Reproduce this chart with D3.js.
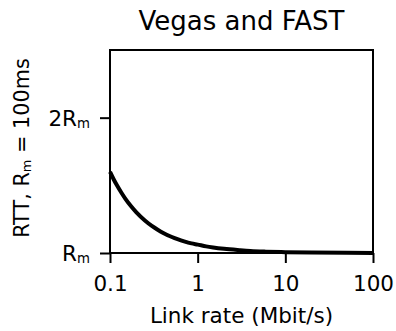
<!DOCTYPE html>
<html>
<head>
<meta charset="utf-8">
<script src="https://cdn.jsdelivr.net/npm/d3@7"></script>
<style>
  html, body { margin: 0; padding: 0; background: #fff; }
  svg { display: block; font-family: "DejaVu Sans", sans-serif; }
</style>
</head>
<body>
<svg id="chart" width="396" height="331"></svg>
<script>
// Data
const rates = [0.1, 0.11, 0.12, 0.135, 0.15, 0.175, 0.2, 0.25, 0.3, 0.35, 0.4, 0.5, 0.6, 0.7, 0.85, 1, 1.25, 1.5, 2, 3, 4, 6, 10, 20, 50, 100];
const rttValues = [1.60, 1.545, 1.50, 1.445, 1.40, 1.343, 1.30, 1.24, 1.20, 1.172, 1.15, 1.12, 1.10, 1.086, 1.071, 1.062, 1.049, 1.041, 1.031, 1.021, 1.015, 1.01, 1.006, 1.003, 1.0012, 1.0006];
const xTickValues = [0.1, 1, 10, 100];
const xTickLabels = ["0.1", "1", "10", "100"];
const yTickValues = [1, 2];
const yTickPrefixes = ["", "2"];
const titleText = "Vegas and FAST";
const xLabelText = "Link rate (Mbit/s)";

const svg = d3.select("#chart");
const mLeft = 110, mRight = 373, mTop = 50, mBottom = 253;
const fs = 21.5;

const x = d3.scaleLog().domain([0.1, 100]).range([mLeft, mRight]);
const y = d3.scaleLinear().domain([1, 2.5]).range([mBottom, mTop]);

// Curve
const data = rates.map((r, i) => ({ r, v: rttValues[i] }));
svg.append("path")
  .datum(data)
  .attr("fill", "none")
  .attr("stroke", "#000")
  .attr("stroke-width", 4)
  .attr("d", d3.line().x(d => x(d.r)).y(d => y(d.v)).curve(d3.curveMonotoneX));

// Frame
svg.append("rect")
  .attr("x", mLeft).attr("y", mTop)
  .attr("width", mRight - mLeft).attr("height", mBottom - mTop)
  .attr("fill", "none").attr("stroke", "#000").attr("stroke-width", 2);

// X axis
const xAxis = d3.axisBottom(x)
  .tickValues(xTickValues)
  .tickFormat((d, i) => xTickLabels[i])
  .tickSize(10).tickPadding(13);
const gx = svg.append("g").attr("transform", `translate(0,${mBottom})`).call(xAxis);
gx.select(".domain").remove();
gx.selectAll(".tick line").attr("stroke", "#000").attr("stroke-width", 2);
gx.selectAll(".tick text").attr("fill", "#000").style("font-size", fs + "px")
  .style("font-family", "DejaVu Sans");

// Y axis
const yAxis = d3.axisLeft(y)
  .tickValues(yTickValues)
  .tickFormat("")
  .tickSize(10).tickPadding(10);
const gy = svg.append("g").attr("transform", `translate(${mLeft},0)`).call(yAxis);
gy.select(".domain").remove();
gy.selectAll(".tick line").attr("stroke", "#000").attr("stroke-width", 2);
gy.selectAll(".tick text")
  .attr("fill", "#000")
  .attr("dy", "0.36em")
  .style("font-size", fs + "px")
  .style("font-family", "DejaVu Sans")
  .each(function(d, i) {
    const t = d3.select(this);
    t.text(null);
    t.append("tspan").text(yTickPrefixes[i] + "R");
    t.append("tspan").attr("font-size", "0.62em").attr("dy", "0.12em").text("m");
  });

// Title
svg.append("text")
  .attr("x", (mLeft + mRight) / 2).attr("y", 30)
  .attr("text-anchor", "middle")
  .style("font-size", "26px")
  .attr("fill", "#000")
  .text(titleText);

// X label
svg.append("text")
  .attr("x", (mLeft + mRight) / 2).attr("y", 323)
  .attr("text-anchor", "middle")
  .style("font-size", fs + "px")
  .attr("fill", "#000")
  .text(xLabelText);

// Y label
const yl = svg.append("text")
  .attr("transform", `translate(29,148) rotate(-90)`)
  .attr("text-anchor", "middle")
  .style("font-size", "20.8px")
  .attr("fill", "#000");
yl.append("tspan").text("RTT, R");
yl.append("tspan").attr("font-size", "0.62em").attr("dy", "0.12em").text("m");
yl.append("tspan").attr("dy", "-0.075em").text(" = 100ms");
</script>
</body>
</html>
